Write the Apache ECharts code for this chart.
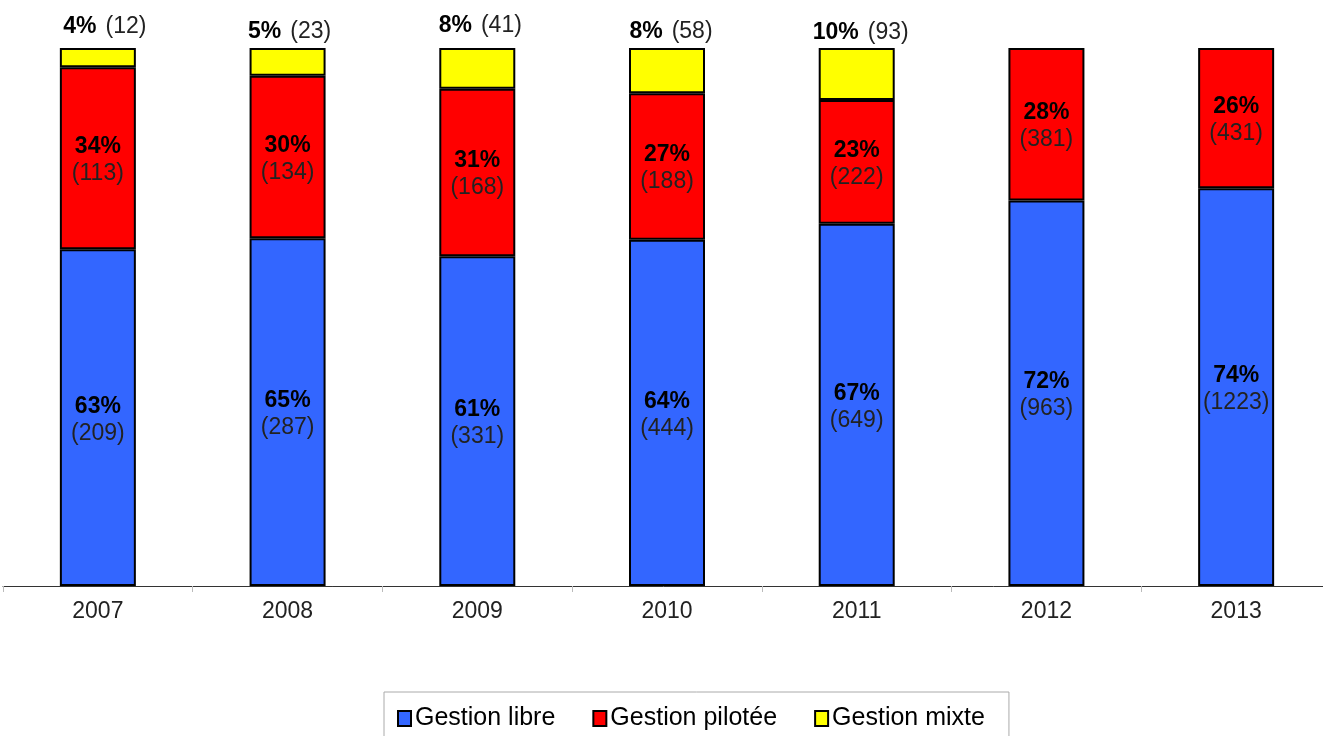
<!DOCTYPE html>
<html>
<head>
<meta charset="utf-8">
<script src="https://cdn.jsdelivr.net/npm/echarts@6/dist/echarts.min.js"></script>
<style>
html,body{margin:0;padding:0;background:#fff;}
#c{width:1323px;height:736px;}
</style>
</head>
<body>
<div id="c"></div>
<script>
// Data
const years = ['2007', '2008', '2009', '2010', '2011', '2012', '2013'];
const libreCounts = [209, 287, 331, 444, 649, 963, 1223];
const piloteeCounts = [113, 134, 168, 188, 222, 381, 431];
const mixteCounts = [12, 23, 41, 58, 93, 0, 0];
const librePct = ['63%', '65%', '61%', '64%', '67%', '72%', '74%'];
const piloteePct = ['34%', '30%', '31%', '27%', '23%', '28%', '26%'];
const mixtePct = ['4%', '5%', '8%', '8%', '10%', '', ''];
const seriesNames = ['Gestion libre', 'Gestion pilotée', 'Gestion mixte'];

const totals = years.map((y, i) => libreCounts[i] + piloteeCounts[i] + mixteCounts[i]);

// Styling: small per-label nudges of the top labels, as placed in the reference
const topLabelNudge = [[7, -2], [2, 3], [3, -3], [4, 3], [4, 4], [0, 0], [0, 0]];

const FONT = 'Liberation Sans, Arial, sans-serif';
const rich = {
  p: { fontFamily: FONT, fontSize: 23, fontWeight: 'bold', color: '#000', lineHeight: 27 },
  c: { fontFamily: FONT, fontSize: 23, color: '#222', lineHeight: 27 },
  s: { width: 9 }
};

function makeSeries(name, counts, pcts, color, top) {
  return {
    name: name,
    type: 'bar',
    stack: 'total',
    barWidth: 76,
    data: counts.map((v, i) => {
      const item = { value: v === 0 ? null : v / totals[i] * 100 };
      if (top) item.label = { offset: topLabelNudge[i] };
      return item;
    }),
    itemStyle: { color: color, borderColor: '#000', borderWidth: 2 },
    label: {
      show: true,
      position: top ? 'top' : 'inside',
      offset: [0, 2],
      distance: 6,
      formatter: (p) => {
        const c = counts[p.dataIndex];
        if (!c) return '';
        return top ? '{p|' + pcts[p.dataIndex] + '}{s| }{c|(' + c + ')}'
                   : '{p|' + pcts[p.dataIndex] + '}\n{c|(' + c + ')}';
      },
      rich: rich
    },
    emphasis: { disabled: true }
  };
}

const chart = echarts.init(document.getElementById('c'));
chart.setOption({
  animation: false,
  backgroundColor: '#fff',
  grid: { left: 3, width: 1328, top: 48, bottom: 150, outerBoundsMode: 'none', containLabel: false },
  xAxis: {
    type: 'category',
    data: years,
    axisLine: { lineStyle: { color: '#333', width: 1 } },
    axisTick: { show: true, length: 6, lineStyle: { color: '#bbb', width: 1 } },
    axisLabel: { fontFamily: FONT, fontSize: 23, color: '#222', margin: 14 }
  },
  yAxis: { type: 'value', min: 0, max: 100, show: false },
  legend: {
    data: seriesNames,
    left: 384,
    top: 692,
    orient: 'horizontal',
    padding: [14, 24, 14, 13],
    itemGap: 37,
    itemWidth: 13,
    itemHeight: 15,
    borderColor: '#aaa',
    borderWidth: 1,
    icon: 'rect',
    textStyle: { fontFamily: FONT, fontSize: 25, color: '#000', padding: [0, 0, 0, -1] },
    itemStyle: { borderColor: '#000', borderWidth: 2 }
  },
  series: [
    makeSeries(seriesNames[0], libreCounts, librePct, '#3366FF', false),
    makeSeries(seriesNames[1], piloteeCounts, piloteePct, '#FF0000', false),
    makeSeries(seriesNames[2], mixteCounts, mixtePct, '#FFFF00', true)
  ]
});
</script>
</body>
</html>
